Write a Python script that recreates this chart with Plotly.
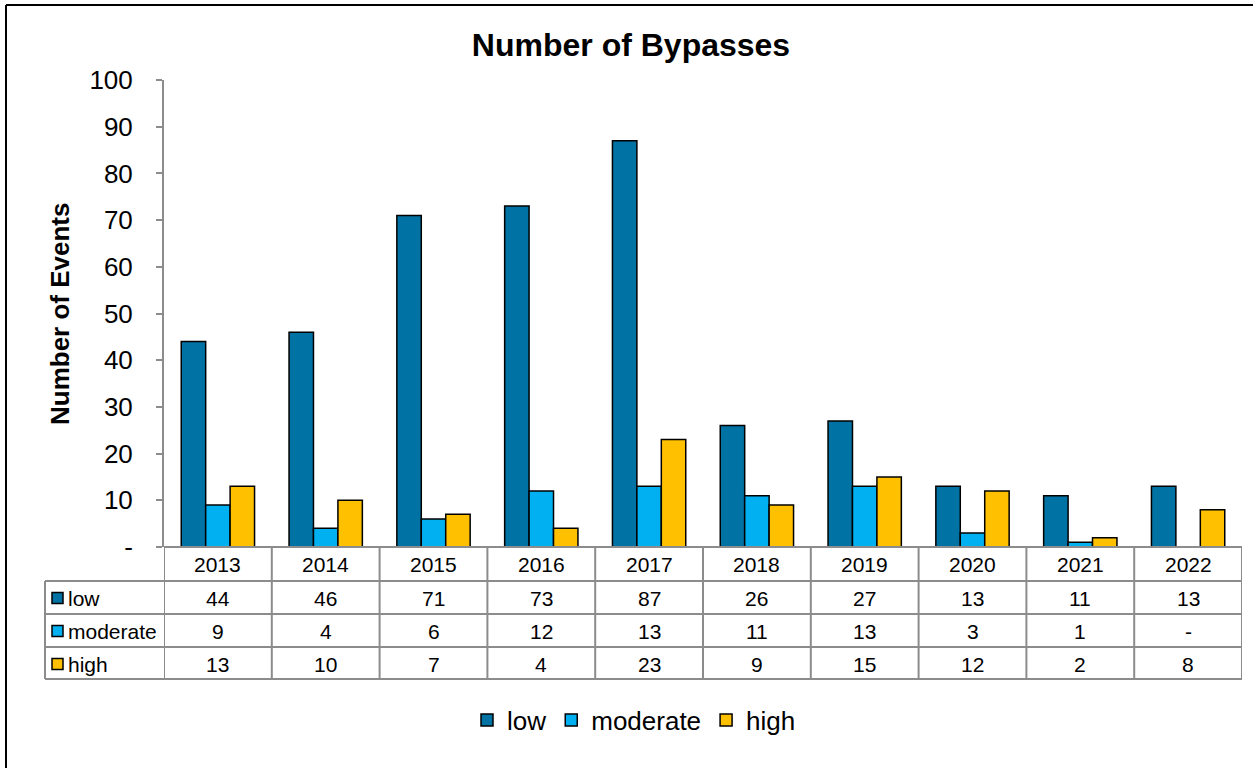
import plotly.graph_objects as go

years = ["2013", "2014", "2015", "2016", "2017", "2018", "2019", "2020", "2021", "2022"]
low = [44, 46, 71, 73, 87, 26, 27, 13, 11, 13]
moderate = [9, 4, 6, 12, 13, 11, 13, 3, 1, 0]
high = [13, 10, 7, 4, 23, 9, 15, 12, 2, 8]
series_names = ["low", "moderate", "high"]
colors = ["#0072A3", "#00B0F0", "#FFC000"]
y_ticks = [0, 10, 20, 30, 40, 50, 60, 70, 80, 90, 100]

FONT = "Liberation Sans, Arial, sans-serif"
GRID = "#8c8c8c"

# pixel layout of the plot area (page is 1253x768)
W, H = 1253, 768
L, R, T, B = 164, 11, 80, 221
pw, ph = W - L - R, H - T - B


def px_x(x):
    return (x - L) / pw


def px_y(y):
    return (H - B - y) / ph


def fmt(v):
    return "-" if v == 0 else str(v)


fig = go.Figure()
for name, vals, col in zip(series_names, [low, moderate, high], colors):
    fig.add_trace(go.Bar(
        x=years, y=[v if v else None for v in vals], name=name,
        marker=dict(color=col, line=dict(color="black", width=1.5)),
    ))

shapes = []
annotations = []

# table grid
row_lines = [547, 581, 614, 647, 679]
for i, y in enumerate(row_lines):
    x0 = L if i == 0 else 45
    shapes.append(dict(type="line", xref="paper", yref="paper",
                       x0=px_x(x0), x1=1, y0=px_y(y), y1=px_y(y),
                       line=dict(color=GRID, width=2)))
shapes.append(dict(type="line", xref="paper", yref="paper",
                   x0=px_x(45), x1=px_x(45), y0=px_y(581), y1=px_y(679),
                   line=dict(color=GRID, width=2)))
for k in range(len(years) + 1):
    shapes.append(dict(type="line", xref="x", yref="paper",
                       x0=k - 0.5, x1=k - 0.5, y0=px_y(547), y1=px_y(679),
                       line=dict(color=GRID, width=2)))

# header years
for i, yr in enumerate(years):
    annotations.append(dict(x=i, y=px_y(564), xref="x", yref="paper", text=yr,
                            xanchor="center", yanchor="middle", showarrow=False,
                            font=dict(size=21, color="black")))

row_mid = [598, 631, 664]
for r, (name, vals, col) in enumerate(zip(series_names, [low, moderate, high], colors)):
    yc = row_mid[r]
    shapes.append(dict(type="rect", xref="paper", yref="paper",
                       x0=px_x(52), x1=px_x(63), y0=px_y(yc + 5.5), y1=px_y(yc - 5.5),
                       fillcolor=col, line=dict(color="black", width=1.5)))
    annotations.append(dict(x=px_x(66), y=px_y(yc), xref="paper", yref="paper", text=name,
                            xanchor="left", yanchor="middle", showarrow=False,
                            font=dict(size=21, color="black")))
    for i, v in enumerate(vals):
        annotations.append(dict(x=i, y=px_y(yc), xref="x", yref="paper", text=fmt(v),
                                xanchor="center", yanchor="middle", showarrow=False,
                                font=dict(size=21, color="black")))

# outer border (top and left visible)
shapes.append(dict(type="line", xref="paper", yref="paper",
                   x0=px_x(6), x1=px_x(W + 5), y0=px_y(5), y1=px_y(5),
                   line=dict(color="black", width=2)))
shapes.append(dict(type="line", xref="paper", yref="paper",
                   x0=px_x(6), x1=px_x(6), y0=px_y(5), y1=px_y(H + 5),
                   line=dict(color="black", width=2)))

annotations.append(dict(x=px_x(60), y=px_y(314), xref="paper", yref="paper",
                        text="<b>Number of Events</b>", textangle=-90, showarrow=False,
                        xanchor="center", yanchor="middle",
                        font=dict(size=26, color="black")))

fig.update_layout(
    width=W, height=H,
    margin=dict(l=L, r=R, t=T, b=B),
    paper_bgcolor="white", plot_bgcolor="white",
    font=dict(family=FONT, color="black"),
    title=dict(text="<b>Number of Bypasses</b>", xref="container", x=631 / W,
               y=1 - 45 / H, xanchor="center", yanchor="middle",
               font=dict(size=32, color="black")),
    barmode="group", bargap=0.32, bargroupgap=0,
    showlegend=True,
    legend=dict(orientation="h", x=px_x(634), y=px_y(720), xanchor="center",
                yanchor="middle", font=dict(size=26), itemwidth=30,
                traceorder="normal"),
    shapes=shapes, annotations=annotations,
)
fig.update_xaxes(showticklabels=False, showline=False, range=[-0.5, 9.5])
fig.update_yaxes(range=[0, 100], tickvals=y_ticks,
                 ticktext=[fmt(v) for v in y_ticks],
                 showgrid=False, showline=True, linecolor=GRID, linewidth=2,
                 ticks="outside", ticklen=6, tickcolor=GRID, tickwidth=2,
                 ticklabelstandoff=18, tickfont=dict(size=26), zeroline=False)

fig.write_html("out.html", config={"displayModeBar": False},
               post_script="document.body.style.margin='0';document.body.style.overflow='hidden';")
